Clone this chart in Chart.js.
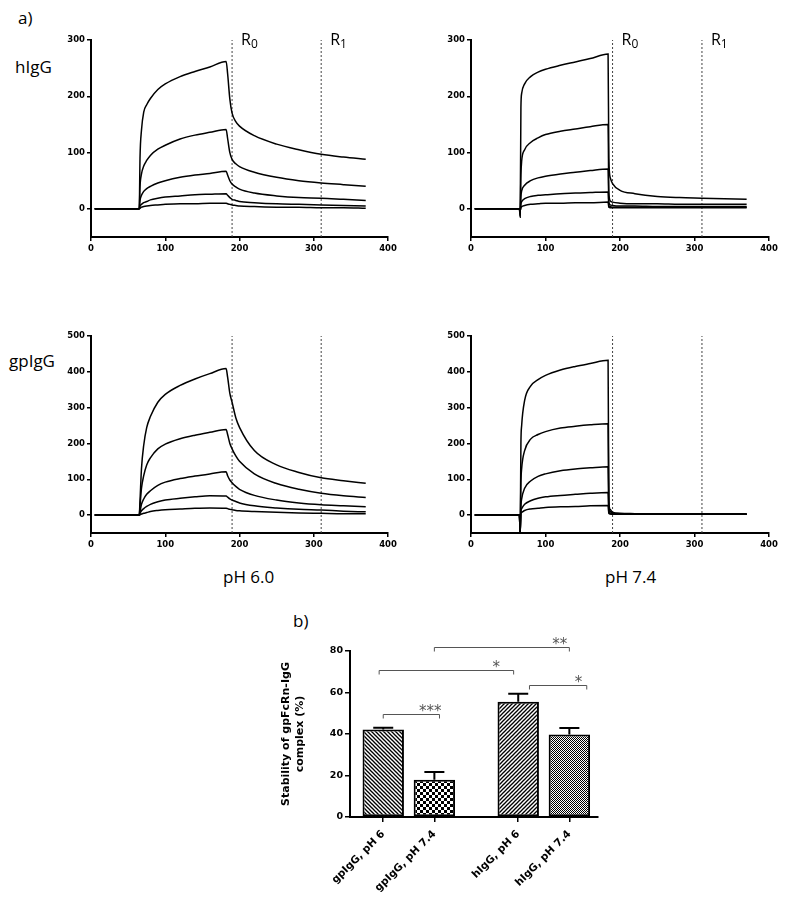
<!DOCTYPE html>
<html>
<head>
<meta charset="utf-8">
<script src="https://cdn.jsdelivr.net/npm/chart.js@4.4.0/dist/chart.umd.min.js"></script>
<style>
  body { margin: 0; background: #fff; width: 788px; height: 901px; position: relative; overflow: hidden; }
  canvas { position: absolute; }
  .lbl { position: absolute; font-family: 'Open Sans', sans-serif; font-size: 17px; line-height: 17px; color: #000; white-space: nowrap; }
</style>
</head>
<body>
<div class="lbl" style="left:18px;top:9px">a)</div>
<div class="lbl" style="left:15px;top:58px">hIgG</div>
<div class="lbl" style="left:9px;top:352px">gpIgG</div>
<div class="lbl" style="left:223px;top:568px">pH 6.0</div>
<div class="lbl" style="left:605px;top:568px">pH 7.4</div>
<div class="lbl" style="left:293px;top:612px">b)</div>

<canvas id="c1" width="356" height="232" style="left:51px;top:30px"></canvas>
<canvas id="c2" width="357" height="232" style="left:431px;top:30px"></canvas>
<canvas id="c3" width="356" height="232" style="left:51px;top:326px"></canvas>
<canvas id="c4" width="357" height="232" style="left:431px;top:326px"></canvas>
<canvas id="c5" width="340" height="262" style="left:270px;top:630px"></canvas>

<script>
// ---- sensorgrams (response units vs time, s) ----
const xTicks = [0, 100, 200, 300, 400];
const yTicksH = [0, 100, 200, 300];
const yTicksGp = [0, 100, 200, 300, 400, 500];
const markerTimes = [190, 310];
const markerSubs = ['0', '1'];

const timePH6 = [5, 65, 66, 68, 71, 75, 80, 90, 100, 120, 140, 160, 182, 184, 187, 190, 195, 200, 220, 250, 280, 310, 340, 370];
const timePH74 = [5, 65, 66, 67, 68, 72, 80, 90, 100, 120, 140, 160, 184, 185, 187, 190, 200, 220, 250, 280, 310, 340, 370];

// hIgG, pH 6.0
const hIgG6 = [
  [0, 0, 90, 140, 172, 185, 196, 212, 222, 235, 244, 252, 262, 240, 195, 170, 155, 147, 130, 115, 105, 97, 92, 88],
  [0, 0, 40, 62, 76, 86, 95, 106, 113, 124, 131, 136, 141, 125, 100, 88, 80, 75, 65, 56, 50, 46, 43, 40],
  [0, 0, 15, 24, 31, 36, 40, 46, 50, 56, 60, 63, 67, 60, 50, 44, 39, 35, 28, 23, 20, 19, 17, 15],
  [0, 0, 5, 8, 11, 13, 16, 19, 21, 23, 25, 26, 27, 24, 20, 17, 15, 13, 11, 9, 8, 7, 6, 5],
  [0, 0, 1, 3, 4, 5, 6, 7, 8, 9, 9, 10, 10, 9, 8, 7, 6, 5, 4, 3, 3, 2, 2, 1]
];
// hIgG, pH 7.4
const hIgG74 = [
  [0, 0, -15, 180, 205, 222, 235, 243, 248, 255, 261, 267, 275, 90, 55, 45, 33, 27, 22, 20, 19, 18, 17],
  [0, 0, -12, 60, 85, 105, 118, 126, 132, 138, 142, 146, 150, 30, 14, 12, 10, 9, 9, 8, 8, 8, 8],
  [0, 0, -8, 22, 32, 42, 50, 55, 58, 62, 65, 68, 71, 12, 7, 6, 5, 5, 4, 4, 4, 4, 4],
  [0, 0, -5, 9, 13, 18, 22, 24, 25, 27, 28, 29, 30, 6, 4, 3, 3, 3, 3, 3, 3, 3, 3],
  [0, 0, -3, 2, 4, 6, 8, 9, 10, 10, 11, 11, 12, 3, 2, 2, 2, 2, 2, 2, 2, 2, 2]
];
// gpIgG, pH 6.0
const gpIgG6 = [
  [0, 0, 40, 130, 195, 244, 275, 315, 337, 362, 380, 395, 409, 385, 340, 315, 272, 245, 180, 140, 119, 104, 96, 89],
  [0, 0, 25, 75, 110, 140, 160, 185, 198, 213, 223, 231, 239, 225, 200, 185, 165, 150, 115, 88, 72, 61, 54, 49],
  [0, 0, 10, 30, 45, 58, 68, 83, 92, 102, 109, 115, 121, 110, 98, 90, 80, 72, 55, 42, 34, 29, 26, 23],
  [0, 0, 5, 12, 18, 24, 30, 37, 42, 47, 51, 54, 53, 50, 45, 42, 38, 34, 26, 20, 16, 14, 11, 9],
  [0, 0, 1, 3, 5, 7, 10, 13, 15, 17, 19, 20, 19, 18, 16, 15, 13, 12, 10, 8, 6, 5, 4, 4]
];
// gpIgG, pH 7.4
const gpIgG74 = [
  [0, 0, -50, 200, 250, 320, 360, 378, 390, 405, 415, 423, 432, 40, 15, 8, 5, 4, 3, 3, 3, 3, 3],
  [0, 0, -50, 90, 130, 180, 212, 225, 233, 243, 248, 252, 255, 25, 10, 6, 4, 3, 3, 3, 3, 3, 3],
  [0, 0, -50, 25, 45, 75, 95, 108, 115, 124, 129, 132, 135, 15, 6, 4, 3, 3, 2, 2, 2, 2, 2],
  [0, 0, -50, 10, 18, 30, 40, 47, 51, 55, 58, 61, 63, 8, 4, 3, 2, 2, 2, 2, 2, 2, 2],
  [0, 0, -50, 5, 8, 13, 17, 19, 21, 23, 24, 26, 27, 5, 3, 2, 2, 2, 2, 2, 2, 2, 2]
];

// ---- complex stability bars ----
const barLabels = ['gpIgG, pH 6', 'gpIgG, pH 7.4', 'hIgG, pH 6', 'hIgG, pH 7.4'];
const barPos = [1, 2, 3.64, 4.64];
const stability = [42.2, 18.0, 55.6, 39.8];
const stabilitySem = [0.8, 3.7, 3.8, 3.1];
const sigFrom = [1.0, 0.92, 2.0, 3.86];
const sigTo = [2.1, 3.55, 4.64, 4.98];
const sigLevel = [49.6, 70.7, 81.8, 63.8];
const sigMarks = ['***', '*', '**', '*'];
const sigMarkPos = [1.92, 3.21, 4.45, 4.82];

Chart.defaults.animation = false;
Chart.defaults.responsive = false;
Chart.defaults.devicePixelRatio = 1;
Chart.defaults.color = '#000';
Chart.defaults.plugins.legend.display = false;
Chart.defaults.plugins.tooltip.enabled = false;

const tickFont = {family: 'DejaVu Sans', size: 8.5, weight: 'bold'};

const rLabels = {
  id: 'rLabels',
  afterDraw(chart, args, opts) {
    if (!opts.show) return;
    const {ctx, chartArea, scales} = chart;
    ctx.save();
    ctx.fillStyle = '#000';
    ctx.textBaseline = 'alphabetic';
    markerTimes.forEach((m, i) => {
      const x = scales.x.getPixelForValue(m) + 9;
      const y = chartArea.top + 5;
      ctx.font = '16px "Open Sans"';
      ctx.fillText('R', x, y);
      const w = ctx.measureText('R').width;
      ctx.font = '12px "Open Sans"';
      ctx.fillText(markerSubs[i], x + w, y + 3);
    });
    ctx.restore();
  }
};

function makePanel(id, times, curves, yMax, yTicks, showR) {
  const datasets = curves.map(vals => ({
    data: times.map((t, i) => ({x: t, y: vals[i]})),
    borderColor: '#000',
    borderWidth: 1.5,
    pointRadius: 0,
    cubicInterpolationMode: 'monotone'
  }));
  markerTimes.forEach(m => datasets.push({
    data: [{x: m, y: -50}, {x: m, y: yMax}],
    borderColor: '#444',
    borderWidth: 1,
    borderDash: [2, 2],
    pointRadius: 0
  }));
  return new Chart(document.getElementById(id), {
    type: 'line',
    data: {datasets},
    plugins: [rLabels],
    options: {
      layout: {padding: {top: 10, right: 19, left: 0, bottom: 0}},
      plugins: {rLabels: {show: showR}},
      scales: {
        x: {
          type: 'linear', min: 0, max: 400,
          afterBuildTicks: s => { s.ticks = xTicks.map(v => ({value: v})); },
          afterFit: s => { s.height = 25; },
          ticks: {font: tickFont, color: '#000', padding: 3},
          grid: {drawOnChartArea: false, color: '#000', lineWidth: 1.5, tickLength: 4},
          border: {color: '#000', width: 2}
        },
        y: {
          type: 'linear', min: -50, max: yMax,
          afterBuildTicks: s => { s.ticks = yTicks.map(v => ({value: v})); },
          afterFit: s => { s.width = 40; },
          ticks: {font: tickFont, color: '#000', padding: 2},
          grid: {drawOnChartArea: false, color: '#000', lineWidth: 1.5, tickLength: 4},
          border: {color: '#000', width: 2}
        }
      }
    }
  });
}

makePanel('c1', timePH6, hIgG6, 300, yTicksH, true);
makePanel('c2', timePH74, hIgG74, 300, yTicksH, true);
makePanel('c3', timePH6, gpIgG6, 500, yTicksGp, false);
makePanel('c4', timePH74, gpIgG74, 500, yTicksGp, false);

// fill patterns for the bars
const barCtx = document.getElementById('c5').getContext('2d');
function makePattern(size, draw) {
  const c = document.createElement('canvas');
  c.width = c.height = size;
  const g = c.getContext('2d');
  g.fillStyle = '#fff';
  g.fillRect(0, 0, size, size);
  g.fillStyle = '#000';
  g.strokeStyle = '#000';
  g.lineWidth = 1.3;
  draw(g, size);
  return barCtx.createPattern(c, 'repeat');
}
function line(g, x1, y1, x2, y2) {
  g.beginPath(); g.moveTo(x1, y1); g.lineTo(x2, y2); g.stroke();
}
const hatchBack = makePattern(4, (g, s) => {
  line(g, -1, -1, s + 1, s + 1);
  line(g, s - 1, -1, s + 1, 1);
  line(g, -1, s - 1, 1, s + 1);
});
const hatchFwd = makePattern(4, (g, s) => {
  line(g, -1, s + 1, s + 1, -1);
  line(g, -1, 1, 1, -1);
  line(g, s - 1, s + 1, s + 1, s - 1);
});
const checkBig = makePattern(6, g => { g.fillRect(0, 0, 3, 3); g.fillRect(3, 3, 3, 3); });
const checkFine = makePattern(2, g => { g.fillRect(0, 0, 1, 1); g.fillRect(1, 1, 1, 1); });

const barExtras = {
  id: 'barExtras',
  afterDraw(chart) {
    const {ctx, scales: {x, y}} = chart;
    ctx.save();
    // error bars (upper SEM)
    ctx.strokeStyle = '#000';
    ctx.lineWidth = 2;
    barPos.forEach((p, i) => {
      const px = x.getPixelForValue(p);
      const y0 = y.getPixelForValue(stability[i]);
      const y1 = y.getPixelForValue(stability[i] + stabilitySem[i]);
      ctx.beginPath();
      ctx.moveTo(px, y0); ctx.lineTo(px, y1);
      ctx.moveTo(px - 10, y1); ctx.lineTo(px + 10, y1);
      ctx.stroke();
    });
    // significance brackets
    ctx.strokeStyle = '#555';
    ctx.fillStyle = '#555';
    ctx.lineWidth = 1;
    ctx.font = '15px "DejaVu Sans"';
    ctx.textAlign = 'center';
    ctx.textBaseline = 'alphabetic';
    sigLevel.forEach((lv, i) => {
      const x1 = x.getPixelForValue(sigFrom[i]);
      const x2 = x.getPixelForValue(sigTo[i]);
      const yy = Math.round(y.getPixelForValue(lv)) + 0.5;
      ctx.beginPath();
      ctx.moveTo(x1, yy + 4); ctx.lineTo(x1, yy); ctx.lineTo(x2, yy); ctx.lineTo(x2, yy + 4);
      ctx.stroke();
      ctx.fillText(sigMarks[i], x.getPixelForValue(sigMarkPos[i]), yy + 1);
    });
    ctx.restore();
  }
};

new Chart(barCtx, {
  type: 'bar',
  data: {
    datasets: [{
      data: barPos.map((p, i) => ({x: p, y: stability[i]})),
      backgroundColor: [hatchBack, checkBig, hatchFwd, checkFine],
      borderColor: '#000',
      borderWidth: 2,
      borderSkipped: false,
      barPercentage: 0.9,
      categoryPercentage: 0.9
    }]
  },
  plugins: [barExtras],
  options: {
    layout: {padding: {top: 21, right: 12, left: 0, bottom: 0}},
    scales: {
      x: {
        type: 'linear', min: 0.35, max: 5.2,
        offset: false,
        afterBuildTicks: s => { s.ticks = barPos.map(v => ({value: v})); },
        afterFit: s => { s.height = 75; },
        ticks: {
          font: {family: 'DejaVu Sans', size: 10.5, weight: 'bold'},
          color: '#000', padding: 6, minRotation: 45, maxRotation: 45,
          callback: (v, i) => barLabels[i]
        },
        grid: {offset: false, drawOnChartArea: false, color: '#000', lineWidth: 1.5, tickLength: 5},
        border: {color: '#000', width: 2}
      },
      y: {
        min: 0, max: 80,
        ticks: {stepSize: 20, font: {family: 'DejaVu Sans', size: 9.5, weight: 'bold'}, color: '#000', padding: 2},
        afterFit: s => { s.width = 80; },
        grid: {drawOnChartArea: false, color: '#000', lineWidth: 1.5, tickLength: 5},
        border: {color: '#000', width: 2},
        title: {
          display: true,
          text: ['Stability of gpFcRn-IgG', 'complex (%)'],
          font: {family: 'DejaVu Sans', size: 11, weight: 'bold', lineHeight: 1.2},
          color: '#000',
          padding: {top: 10, bottom: 0}
        }
      }
    }
  }
});
</script>
</body>
</html>
